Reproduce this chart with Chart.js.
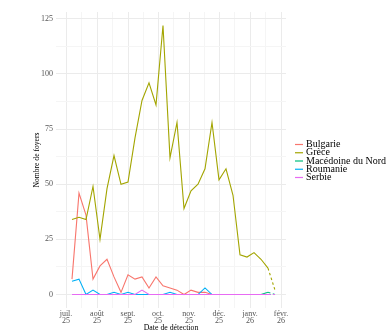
<!DOCTYPE html>
<html>
<head>
<meta charset="utf-8">
<script src="https://cdn.jsdelivr.net/npm/chart.js@4/dist/chart.umd.min.js"></script>
<style>
  html, body { margin: 0; padding: 0; background: #fff; }
</style>
</head>
<body>
<canvas id="foyersChart" width="387" height="335"></canvas>
<script>
// semaines de détection
const weeks = ['2025-07-07','2025-07-14','2025-07-21','2025-07-28','2025-08-04','2025-08-11','2025-08-18','2025-08-25',
  '2025-09-01','2025-09-08','2025-09-15','2025-09-22','2025-09-29','2025-10-06','2025-10-13','2025-10-20','2025-10-27',
  '2025-11-03','2025-11-10','2025-11-17','2025-11-24','2025-12-01','2025-12-08','2025-12-15','2025-12-22','2025-12-29',
  '2026-01-05','2026-01-12','2026-01-19','2026-01-26'];

const countries = ['Bulgarie', 'Grèce', 'Macédoine du Nord', 'Roumanie', 'Serbie'];
const bulgarie  = [7,46,36,7,13,16,8,1,9,7,8,3,8,4,3,2,0,2,1,1,0,0,0,0,0,0,0,0,0,0];
const grece     = [34,35,34,49,25,48,63,50,51,71,88,96,86,122,62,78,39,47,50,57,78,52,57,45,18,17,19,16,12,2];
const macedoine = [0,0,0,0,0,0,0,0,0,0,0,0,0,0,0,0,0,0,0,0,0,0,0,0,0,0,0,0,1,0];
const roumanie  = [6,7,0,2,0,0,1,0,1,0,0,0,0,0,1,0,0,0,0,3,0,0,0,0,0,0,0,0,0,0];
const serbie    = [0,0,0,0,0,0,0,0,0,0,2,0,0,0,0,0,0,0,0,0,0,0,0,0,0,0,0,0,0,0];

// axes
const monthStarts = ['2025-07-01','2025-08-01','2025-09-01','2025-10-01','2025-11-01','2025-12-01','2026-01-01','2026-02-01'];
const monthLabels = [['juil.','25'],['août','25'],['sept.','25'],['oct.','25'],['nov.','25'],['déc.','25'],['janv.','26'],['févr.','26']];
const yTicks = [0, 25, 50, 75, 100, 125];

const colors = ['#F8766D', '#A3A500', '#00BF7D', '#00B0F6', '#E76BF3'];
const series = [bulgarie, grece, macedoine, roumanie, serbie];

const origin = Date.parse('2025-07-01');
const toDay = d => (Date.parse(d) - origin) / 86400000;
const monthDays = monthStarts.map(toDay);
const xMinor = [];
for (let i = 0; i < monthDays.length - 1; i++) xMinor.push((monthDays[i] + monthDays[i + 1]) / 2);
const yMinor = yTicks.slice(0, -1).map(v => v + 12.5);

const serif = 'Liberation Serif';
const lastIdx = weeks.length - 1;

const datasets = series.map((vals, i) => ({
  label: countries[i],
  data: vals.map((v, j) => ({ x: toDay(weeks[j]), y: v })),
  borderColor: colors[i],
  backgroundColor: colors[i],
  borderWidth: 1.1,
  pointRadius: 0,
  tension: 0,
  order: i === 1 ? 3 : (4 - i),
  segment: {
    borderDash: ctx => ctx.p1DataIndex === lastIdx ? [2.5, 2.5] : undefined
  }
}));
// ordre de dessin : Serbie au-dessus
datasets.forEach((d, i) => { d.order = 4 - i; });

// légende dessinée à la main
const legendPlugin = {
  id: 'ggLegend',
  afterDraw(chart) {
    const ctx = chart.ctx;
    ctx.save();
    ctx.font = '10px "' + serif + '"';
    ctx.textBaseline = 'middle';
    ctx.textAlign = 'left';
    countries.forEach((name, i) => {
      const y = 144.5 + i * 8.25;
      ctx.strokeStyle = colors[i];
      ctx.lineWidth = 1.2;
      ctx.beginPath();
      ctx.moveTo(295, y);
      ctx.lineTo(303, y);
      ctx.stroke();
      ctx.fillStyle = '#000';
      ctx.fillText(name, 306, y);
    });
    ctx.restore();
  }
};

new Chart(document.getElementById('foyersChart'), {
  type: 'line',
  data: { datasets: datasets },
  options: {
    responsive: false,
    animation: false,
    layout: { padding: { left: 0, top: 12, right: 101, bottom: 0 } },
    plugins: { legend: { display: false }, tooltip: { enabled: false } },
    scales: {
      x: {
        type: 'linear',
        min: -10,
        max: 220,
        afterBuildTicks: s => {
          s.ticks = monthDays.concat(xMinor).sort((a, b) => a - b).map(v => ({ value: v }));
        },
        afterFit: s => { s.height = 27; },
        ticks: {
          autoSkip: false,
          maxRotation: 0,
          padding: 3,
          color: '#555',
          font: { family: serif, size: 8, lineHeight: 0.85 },
          callback: v => {
            const k = monthDays.indexOf(v);
            return k >= 0 ? monthLabels[k] : '';
          }
        },
        grid: {
          drawTicks: false,
          color: c => (c.tick && monthDays.includes(c.tick.value)) ? '#ebebeb' : '#f5f5f5'
        },
        border: { display: false },
        title: {
          display: true,
          text: 'Date de détection',
          color: '#000',
          font: { family: serif, size: 7.8 },
          padding: { top: 0, bottom: 2.3 }
        }
      },
      y: {
        min: -6.1,
        max: 128.1,
        afterBuildTicks: s => {
          s.ticks = yTicks.concat(yMinor).sort((a, b) => a - b).map(v => ({ value: v }));
        },
        afterFit: s => { s.width = 56; },
        ticks: {
          padding: 3,
          color: '#555',
          font: { family: serif, size: 8 },
          callback: v => yTicks.includes(v) ? String(v) : ''
        },
        grid: {
          drawTicks: false,
          color: c => (c.tick && yTicks.includes(c.tick.value)) ? '#ebebeb' : '#f5f5f5'
        },
        border: { display: false },
        title: {
          display: true,
          text: 'Nombre de foyers',
          color: '#000',
          font: { family: serif, size: 7.6 },
          padding: { top: 32.4, bottom: 0 }
        }
      }
    }
  },
  plugins: [legendPlugin]
});
</script>
</body>
</html>
